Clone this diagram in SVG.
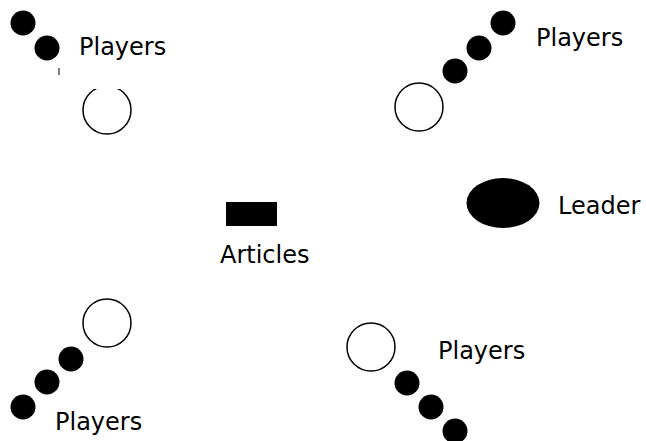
<svg xmlns="http://www.w3.org/2000/svg" width="646" height="441" viewBox="0 0 646 441">
<style>
.lbl{font-family:"DejaVu Sans","Liberation Sans",sans-serif;font-size:24px;fill:#000}
.seat{fill:#fff;stroke:#000;stroke-width:1.5}
.dot{fill:#000}
</style>
<rect width="646" height="441" fill="#fff"/>
<g id="group-top-left">
<circle class="dot" cx="23" cy="23" r="12.5"/>
<circle class="dot" cx="47" cy="48" r="12.5"/>
<line x1="59" y1="68" x2="59" y2="75" stroke="#000" stroke-width="1"/>
<circle class="seat" cx="107" cy="110" r="24"/>
<rect x="85" y="80" width="44" height="9" fill="#fff"/>
<text class="lbl" x="79" y="55">Players</text>
</g>
<g id="group-top-right">
<circle class="dot" cx="503" cy="23" r="12.5"/>
<circle class="dot" cx="479" cy="48" r="12.5"/>
<circle class="dot" cx="455" cy="71" r="12.5"/>
<circle class="seat" cx="419" cy="107" r="24"/>
<text class="lbl" x="536" y="46">Players</text>
</g>
<g id="articles">
<rect x="226" y="202" width="51" height="24" fill="#000"/>
<text class="lbl" x="220" y="263">Articles</text>
</g>
<g id="leader">
<ellipse cx="503" cy="203" rx="36.5" ry="25" fill="#000"/>
<text class="lbl" x="558" y="214">Leader</text>
</g>
<g id="group-bottom-left">
<circle class="seat" cx="107" cy="323" r="24"/>
<circle class="dot" cx="71" cy="359" r="12.5"/>
<circle class="dot" cx="47" cy="382" r="12.5"/>
<circle class="dot" cx="23" cy="407" r="12.5"/>
<text class="lbl" x="55" y="430">Players</text>
</g>
<g id="group-bottom-right">
<circle class="seat" cx="371" cy="347" r="24"/>
<circle class="dot" cx="407" cy="383" r="12.5"/>
<circle class="dot" cx="431" cy="407" r="12.5"/>
<circle class="dot" cx="455" cy="431" r="12.5"/>
<text class="lbl" x="438" y="359">Players</text>
</g>
</svg>
